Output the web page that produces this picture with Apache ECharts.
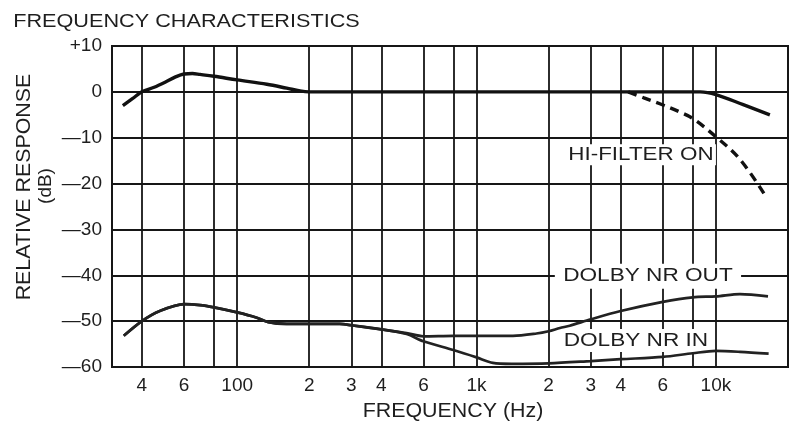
<!DOCTYPE html>
<html><head><meta charset="utf-8">
<script src="https://cdn.jsdelivr.net/npm/echarts@6/dist/echarts.min.js"></script>
<style>html,body{margin:0;padding:0;background:#fff}#c{width:790px;height:422px}</style>
</head><body><div id="c"></div>
<script>
// ---- data (frequency in Hz, response in dB) ----
const gridFreqs = [40,60,80,100,200,300,400,600,800,1000,2000,3000,4000,6000,8000,10000];
const labelFreqs = [40,60,100,200,300,400,600,1000,2000,3000,4000,6000,10000];
const labelTexts = ['4','6','100','2','3','4','6','1k','2','3','4','6','10k'];

const mainResponse = [[33.3,-3],[36.5,-1.5],[40,0],[45,1.0],[50,2.1],[55,3.2],[60,3.9],[65,4.0],[70,3.8],[80,3.4],[100,2.6],[133,1.65],[161,0.8],[183,0.2],[200,0],[300,0],[1000,0],[4000,0],[8600,0],[10000,-0.6],[13000,-2.8],[16800,-5]];
const hiFilterOn = [[4300,0],[5000,-1.3],[5830,-2.6],[7000,-4.3],[8000,-5.8],[10000,-9.8],[12600,-14.7],[16300,-23.1]];
const dolbyOut = [[33.6,-53.2],[40,-50],[47.5,-47.8],[60,-46.3],[70,-46.5],[80,-47],[100,-48.1],[120,-49.2],[135,-50.2],[161,-50.6],[200,-50.6],[268,-50.6],[300,-50.9],[400,-51.8],[510,-52.6],[600,-53.3],[800,-53.2],[1000,-53.2],[1420,-53.2],[1780,-52.7],[2000,-52.2],[2230,-51.5],[2450,-51.0],[3000,-49.6],[4000,-47.8],[6000,-45.8],[8000,-44.8],[10000,-44.6],[12600,-44.1],[16500,-44.6]];
const dolbyIn = [[33.6,-53.2],[40,-50],[47.5,-47.8],[60,-46.3],[70,-46.5],[80,-47],[100,-48.1],[120,-49.2],[135,-50.2],[161,-50.6],[200,-50.6],[268,-50.6],[300,-50.9],[400,-51.8],[510,-52.8],[600,-54.4],[800,-56.3],[1000,-57.9],[1170,-59.1],[1400,-59.3],[2000,-59.2],[3000,-58.7],[4000,-58.3],[6000,-57.8],[8000,-57.0],[10000,-56.5],[12600,-56.7],[16600,-57.1]];

const labelMap = {};
labelFreqs.forEach((f,i)=>labelMap[f]=labelTexts[i]);

const FONT = '"Liberation Sans", Arial, Helvetica, sans-serif';
const INK = '#1e1e1e';
const GRID = '#161616';

const chart = echarts.init(document.getElementById('c'), null, {renderer:'canvas'});
chart.setOption({
  backgroundColor:'#fff',
  animation:false,
  grid:{left:112,right:2,top:46,bottom:55,show:true,borderColor:GRID,borderWidth:2,backgroundColor:'transparent'},
  xAxis:{
    type:'log', logBase:10, min:30, max:20000,
    axisLine:{show:false},
    axisTick:{show:false, customValues:gridFreqs},
    minorTick:{show:false},
    axisLabel:{customValues:labelFreqs, color:INK, fontSize:19, fontFamily:FONT, margin:9,
      formatter:v=>{const k=Math.round(v); return labelMap[k]!==undefined?labelMap[k]:'';}},
    splitLine:{show:true, lineStyle:{color:GRID,width:1.8}}
  },
  yAxis:{
    type:'value', min:-60, max:10, interval:10,
    axisLine:{show:false}, axisTick:{show:false},
    axisLabel:{color:INK, fontSize:19, fontFamily:FONT, margin:10,
      formatter:v=> v>0?'+'+v:(v<0?'\u2014'+(-v):'0')},
    splitLine:{show:true, lineStyle:{color:GRID,width:1.8}}
  },
  series:[
    {type:'line', data:mainResponse, showSymbol:false, smooth:0.35, z:3,
      lineStyle:{color:'#111', width:3.4}},
    {type:'line', data:hiFilterOn, showSymbol:false, smooth:0.35, z:3,
      lineStyle:{color:'#111', width:3.4, type:[9,6]}},
    {type:'line', data:dolbyOut, showSymbol:false, smooth:0.3, z:3,
      lineStyle:{color:'#222', width:2.7}},
    {type:'line', data:dolbyIn, showSymbol:false, smooth:0.3, z:3,
      lineStyle:{color:'#222', width:2.7}}
  ]
});

function txt(text, x, y, size, sx, extra){
  const style = Object.assign({text:text, font:size+'px '+FONT, fill:INK,
    align:'center', verticalAlign:'middle', textAlign:'center', textVerticalAlign:'middle'}, extra||{});
  return {type:'text', x:x, y:y, scaleX:sx, z:1, style:style};
}
const p = (f,d)=>chart.convertToPixel({gridIndex:0},[f,d]);
const a1 = p(4860,-13.7), a2 = p(5200,-40.2), a3 = p(4630,-54.2);
const g = [
  txt('FREQUENCY CHARACTERISTICS', 186.5, 21.5, 19, 1.14),
  txt('FREQUENCY (Hz)', 453, 411, 20, 1.07),
  Object.assign(txt('RELATIVE RESPONSE', 24, 187, 20, 1.07), {rotation:Math.PI/2}),
  Object.assign(txt('(dB)', 46, 186, 19, 1.0), {rotation:Math.PI/2}),
  txt('HI-FILTER ON', a1[0], a1[1], 19, 1.18, {backgroundColor:'#fff', padding:[1,2]}),
  txt('DOLBY NR OUT', a2[0], a2[1], 19, 1.19, {backgroundColor:'#fff', padding:[3,7]}),
  txt('DOLBY NR IN', a3[0], a3[1], 19, 1.19, {backgroundColor:'#fff', padding:[2,1]})
];
chart.setOption({graphic:{elements:g}});
</script></body></html>
